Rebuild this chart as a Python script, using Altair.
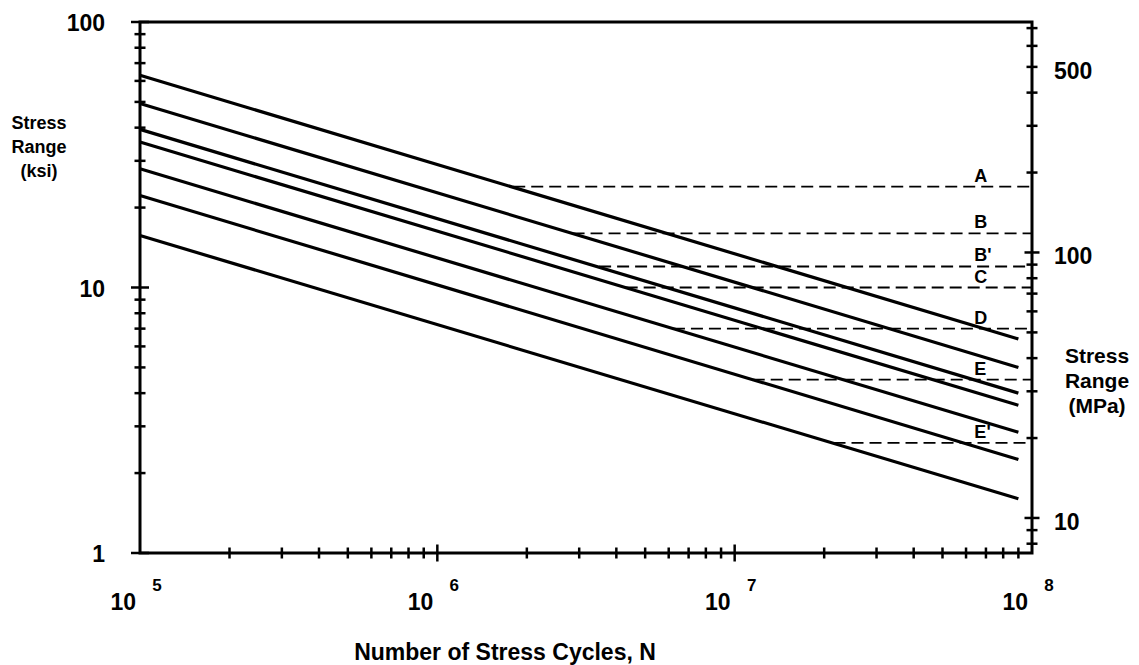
import altair as alt
import pandas as pd

# ---- data ----
categories = ["A", "B", "B'", "C", "D", "E", "E'"]
n_start = 1e5
n_end = 9e7
stress_start = [63.0, 49.3, 39.4, 35.3, 28.0, 22.2, 15.7]   # ksi at N = 1e5
stress_end = [6.4, 5.0, 4.0, 3.6, 2.85, 2.25, 1.6]          # ksi at N = 9e7
threshold = [24.0, 16.0, 12.0, 10.0, 7.0, 4.5, 2.6]          # ksi (dashed)
threshold_start = [1.8e6, 2.85e6, 3.5e6, 4.3e6, 6.2e6, 1.15e7, 2.15e7]
threshold_end = 1e8
label_n = 6.4e7

decades = [1e5, 1e6, 1e7, 1e8]
exponents = ["5", "6", "7", "8"]
x_minor = [m * d for d in [1e5, 1e6, 1e7] for m in range(2, 10)]
x_major = [1e6, 1e7]
ksi_minor = [2, 3, 4, 5, 6, 7, 8, 9, 20, 30, 40, 50, 60, 70, 80, 90]
ksi_major = [1, 10, 100]
ksi_labels = ["1", "10", "100"]
ksi_label_values = [1, 10, 100]
mpa_minor = [8, 9, 20, 30, 40, 50, 60, 70, 80, 90, 200, 300, 400, 500, 600, 700]
mpa_major = [10, 100]
mpa_labels = ["10", "100", "500"]
mpa_label_values = [10, 100, 500]
mpa_per_ksi_axis = 7.38   # right-axis scale ratio as drawn in the figure

x_title = "Number of Stress Cycles, N"
left_title = ["Stress", "Range", "(ksi)"]
right_title = ["Stress", "Range", "(MPa)"]

FONT = "Liberation Sans"
TICK = dict(thickness=2.5, color="black", opacity=1)


def xs():
    return alt.Scale(type="log", domain=[1e5, 1e8], nice=False)


def ys():
    return alt.Scale(type="log", domain=[1, 100], nice=False)


def X():
    return alt.X("N:Q", scale=xs(), axis=None)


def Y():
    return alt.Y("S:Q", scale=ys(), axis=None)


lines_df = pd.DataFrame({
    "cat": categories * 2,
    "N": [n_start] * len(categories) + [n_end] * len(categories),
    "S": stress_start + stress_end,
})
dash_df = pd.DataFrame({
    "cat": categories * 2,
    "N": threshold_start + [threshold_end] * len(categories),
    "S": threshold * 2,
})
lab_df = pd.DataFrame({"cat": categories, "S": threshold, "N": [label_n] * len(categories)})
dec_df = pd.DataFrame({"N": decades, "S": [1] * 4, "exp": exponents, "ten": ["10"] * 4})

layers = []

layers.append(alt.Chart(lines_df).mark_line(color="black", strokeWidth=3.2).encode(
    x=X(), y=Y(), detail="cat:N"))

layers.append(alt.Chart(dash_df).mark_line(color="black", strokeWidth=1.8, strokeDash=[12, 6]).encode(
    x=X(), y=Y(), detail="cat:N"))

layers.append(alt.Chart(lab_df).mark_text(
    font=FONT, fontSize=18, fontWeight="bold", color="black",
    align="left", baseline="alphabetic", dy=-5,
).encode(x=X(), y=Y(), text="cat:N"))

layers.append(alt.Chart(dec_df).mark_text(
    font=FONT, fontSize=23, fontWeight="bold", color="black",
    align="right", baseline="middle", dx=-4, dy=50,
).encode(x=X(), y=Y(), text="ten:N"))

layers.append(alt.Chart(dec_df).mark_text(
    font=FONT, fontSize=17, fontWeight="bold", color="black",
    align="center", baseline="middle", dx=17, dy=33,
).encode(x=X(), y=Y(), text="exp:N"))

# left axis labels and ticks
layers.append(alt.Chart(pd.DataFrame({"S": ksi_label_values, "t": ksi_labels,
                                      "N": [1e5] * 3})).mark_text(
    font=FONT, fontSize=23, fontWeight="bold", color="black",
    align="right", baseline="middle", dx=-35, dy=2,
).encode(x=X(), y=Y(), text="t:N"))

layers.append(alt.Chart(pd.DataFrame({"S": ksi_minor, "N": [1e5] * len(ksi_minor)})).mark_tick(
    orient="horizontal", size=11, **TICK).encode(x=X(), y=Y()))
layers.append(alt.Chart(pd.DataFrame({"S": ksi_major, "N": [1e5] * len(ksi_major)})).mark_tick(
    orient="horizontal", size=18, **TICK).encode(x=X(), y=Y()))

# bottom axis ticks
layers.append(alt.Chart(pd.DataFrame({"N": x_minor, "S": [1] * len(x_minor)})).mark_tick(
    orient="vertical", size=11, **TICK).encode(x=X(), y=Y()))
layers.append(alt.Chart(pd.DataFrame({"N": x_major, "S": [1] * len(x_major)})).mark_tick(
    orient="vertical", size=17, **TICK).encode(x=X(), y=Y()))

# right (MPa) axis ticks and labels, placed through the same log scale
conv = f"datum.M / {mpa_per_ksi_axis}"
layers.append(alt.Chart(pd.DataFrame({"M": mpa_minor, "N": [1e8] * len(mpa_minor)})).transform_calculate(
    S=conv).mark_tick(orient="horizontal", size=11, **TICK).encode(x=X(), y=Y()))
layers.append(alt.Chart(pd.DataFrame({"M": mpa_major, "N": [1e8] * len(mpa_major)})).transform_calculate(
    S=conv).mark_tick(orient="horizontal", size=15, **TICK).encode(x=X(), y=Y()))
layers.append(alt.Chart(pd.DataFrame({"M": mpa_label_values, "t": mpa_labels,
                                      "N": [1e8] * 3})).transform_calculate(S=conv).mark_text(
    font=FONT, fontSize=23, fontWeight="bold", color="black",
    align="left", baseline="middle", dx=22, dy=5,
).encode(x=X(), y=Y(), text="t:N"))

# titles
layers.append(alt.Chart(pd.DataFrame({"t": [x_title], "N": [1e5], "S": [1]})).mark_text(
    font=FONT, fontSize=23, fontWeight="bold", color="black",
    align="center", baseline="middle", dx=365, dy=100,
).encode(x=X(), y=Y(), text="t:N"))

for i, line in enumerate(left_title):
    layers.append(alt.Chart(pd.DataFrame({"t": [line], "N": [1e5], "S": [100]})).mark_text(
        font=FONT, fontSize=18, fontWeight="bold", color="black",
        align="center", baseline="middle", dx=-101, dy=102 + 24 * i,
    ).encode(x=X(), y=Y(), text="t:N"))

for i, line in enumerate(right_title):
    layers.append(alt.Chart(pd.DataFrame({"t": [line], "N": [1e8], "S": [100]})).mark_text(
        font=FONT, fontSize=21, fontWeight="bold", color="black",
        align="center", baseline="middle", dx=65, dy=335 + 25 * i,
    ).encode(x=X(), y=Y(), text="t:N"))

chart = alt.layer(*layers).properties(
    width=892, height=531,
    autosize=alt.AutoSizeParams(type="none"),
    padding={"left": 140, "top": 22, "right": 107, "bottom": 112},
    background="white",
).configure(font=FONT).configure_view(stroke="black", strokeWidth=3)

chart.save("out.html", embed_options={"renderer": "svg", "actions": False})
